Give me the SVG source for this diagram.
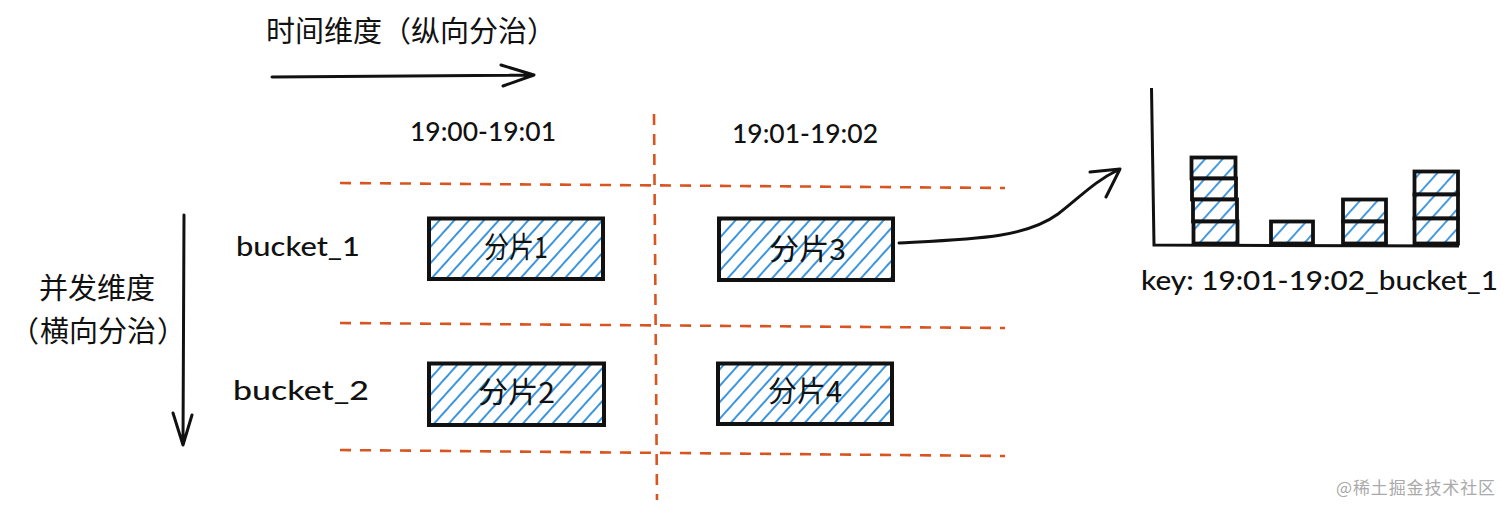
<svg xmlns="http://www.w3.org/2000/svg" width="1512" height="514" viewBox="0 0 1512 514">
<style>
text{font-family:"Lato","Noto Sans CJK SC",sans-serif;fill:#111;font-size:27px;font-weight:500}
.cn{font-family:"Noto Sans CJK SC",sans-serif;font-weight:400;font-size:29px}
.dash{fill:none;stroke:#d9541e;stroke-width:2.6;stroke-dasharray:11 9}
.ink{fill:none;stroke:#111;stroke-width:3;stroke-linecap:round;stroke-linejoin:round}
.box{fill:url(#hatch);stroke:#111;stroke-width:4}
.cell{fill:url(#hatch2);stroke:#111;stroke-width:3.8}
</style>
<defs>
<pattern id="hatch" width="11" height="11" patternUnits="userSpaceOnUse" patternTransform="rotate(-48)"><rect width="11" height="11" fill="#fff"/><rect width="11" height="2" fill="#3d95dc"/></pattern>
<pattern id="hatch2" width="13" height="13" patternUnits="userSpaceOnUse" patternTransform="rotate(-48)"><rect width="13" height="13" fill="#fff"/><rect width="13" height="1.900" fill="#3d95dc"/></pattern>
</defs>
<rect width="1512" height="514" fill="#fff"/>
<g id="connectors">
<path class="dash" d="M340 183L1005 188M340 323L1005 328M340 450L1005 456M654 114L657 500"/>
<path class="ink" d="M272 77L534 75M501 65L534 75L503 86"/>
<path class="ink" d="M184 215L183 445M173 413L183 445L192 415"/>
<path class="ink" d="M899 243C975 239 1025 238 1058 214C1080 197 1095 181 1118 170M1090 172L1120 169L1106 197"/>
</g>
<g id="title-time"><text class="cn" x="266" y="42">时间维度（纵向分治）</text></g>
<g id="title-concurrency"><text class="cn" x="39" y="299">并发维度</text><text class="cn" y="342"><tspan x="10">（</tspan><tspan x="40">横向分治</tspan><tspan x="157">）</tspan></text></g>
<g id="col-1"><text x="410" y="141" textLength="146" lengthAdjust="spacingAndGlyphs">19:00-19:01</text></g>
<g id="col-2"><text x="732" y="143" textLength="146" lengthAdjust="spacingAndGlyphs">19:01-19:02</text></g>
<g id="row-1"><text x="236" y="256" textLength="124" lengthAdjust="spacingAndGlyphs">bucket_1</text></g>
<g id="row-2"><text x="233" y="400" textLength="136" lengthAdjust="spacingAndGlyphs">bucket_2</text></g>
<g id="shard-1"><rect class="box" x="429" y="218.500" width="174" height="60.500"/><text class="cn" x="484" y="258" textLength="64" lengthAdjust="spacingAndGlyphs">分片1</text></g>
<g id="shard-3"><rect class="box" x="719" y="218.500" width="174" height="61.500"/><text class="cn" x="769" y="260" textLength="77" lengthAdjust="spacingAndGlyphs">分片3</text></g>
<g id="shard-2"><rect class="box" x="429" y="363.500" width="175" height="61.500"/><text class="cn" x="478" y="403" textLength="77" lengthAdjust="spacingAndGlyphs">分片2</text></g>
<g id="shard-4"><rect class="box" x="718" y="363.500" width="174" height="60.500"/><text class="cn" x="768" y="402" textLength="74" lengthAdjust="spacingAndGlyphs">分片4</text></g>
<g id="chart">
<rect class="cell" x="1191.500" y="157.500" width="44" height="21"/>
<rect class="cell" x="1192" y="178.500" width="44" height="21"/>
<rect class="cell" x="1193" y="199.500" width="44" height="22"/>
<rect class="cell" x="1193.500" y="221.500" width="44" height="22"/>
<rect class="cell" x="1271" y="221.500" width="42" height="22"/>
<rect class="cell" x="1343" y="199.500" width="43" height="22"/>
<rect class="cell" x="1343" y="221.500" width="43" height="22"/>
<rect class="cell" x="1414.500" y="171.500" width="43.500" height="23"/>
<rect class="cell" x="1414.500" y="194.500" width="43.500" height="24"/>
<rect class="cell" x="1414.500" y="218.500" width="43.500" height="25"/>
<path d="M1151.500 88L1154 245L1459 246" fill="none" stroke="#111" stroke-width="3"/>
</g>
<g id="key-label"><text x="1141" y="290" textLength="357" lengthAdjust="spacingAndGlyphs">key: 19:01-19:02_bucket_1</text></g>
<g id="watermark"><text x="1336" y="494" textLength="159" style="font-size:17px;fill:#aaa;font-weight:400;font-family:'Noto Sans CJK SC',sans-serif">@稀土掘金技术社区</text></g>
</svg>
